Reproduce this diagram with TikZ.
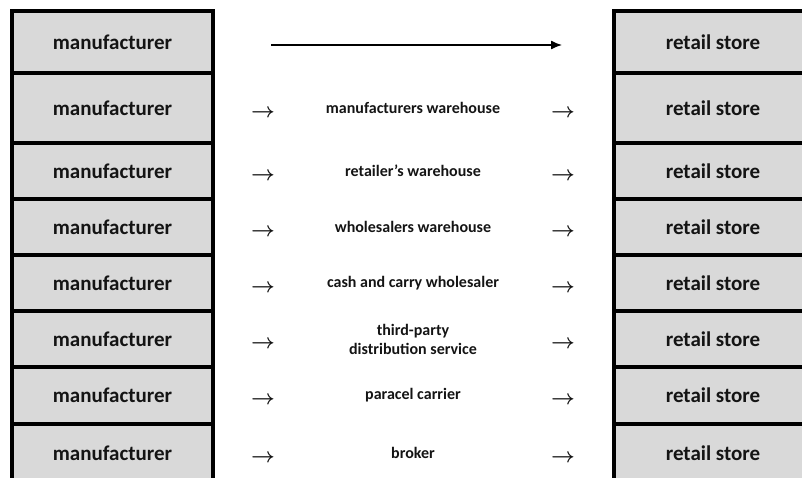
\documentclass[tikz,border=0pt]{standalone}
\usepackage{fontspec}
\setmainfont{Carlito}
\usetikzlibrary{arrows.meta}

\definecolor{boxfill}{HTML}{D9D9D9}
\definecolor{ink}{HTML}{141414}

\tikzset{
  endbox/.style={draw=black, line width=4pt, fill=boxfill, text=ink,
    font=\fontsize{21}{25}\selectfont\bfseries, inner sep=0pt, outer sep=0pt},
  midlabel/.style={text=ink, font=\fontsize{16}{19}\selectfont\bfseries,
    align=center, inner sep=0pt},
  smallarrow/.style={text=ink, font=\fontsize{20}{24}\selectfont\boldmath, inner sep=0pt},
  flow/.style={line width=1.3pt, -{Latex[length=11pt,width=9pt]}}
}

\begin{document}
\begin{tikzpicture}[x=1pt, y=-1pt]
  \useasboundingbox (0,0) rectangle (802,477);
  \clip (0,0) rectangle (802,477);

  % rows: top / bottom edges of each band
  \foreach \i/\top/\bot in {1/11/73, 2/73/143, 3/143/199, 4/199/255,
                            5/255/311, 6/311/367, 7/367/424, 8/424/482}{
    \pgfmathsetmacro{\h}{\bot-\top}
    \pgfmathsetmacro{\yc}{(\top+\bot)/2}
    \node[endbox, minimum width=201pt, minimum height=\h pt]
      (m\i) at (112.5,\yc) {manufacturer};
    \node[endbox, minimum width=198pt, minimum height=\h pt]
      (r\i) at (713,\yc) {retail store};
  }

  % direct route: one long arrow
  \draw[flow] ([xshift=58pt, yshift=-3pt]m1.east) -- ([xshift=-52pt, yshift=-3pt]r1.west);

  % intermediated routes
  \foreach \i/\lbl in {2/manufacturers warehouse, 3/retailer's warehouse,
                       4/wholesalers warehouse, 5/cash and carry wholesaler,
                       6/{third-party\\distribution service},
                       7/paracel carrier, 8/broker}{
    \node[midlabel] (c\i) at (413, 0 |- m\i.center) {\lbl};
    \node[smallarrow] (la\i) at ([yshift=-5pt]263, 0 |- m\i.center) {$\rightarrow$};
    \node[smallarrow] (ra\i) at ([yshift=-5pt]563, 0 |- m\i.center) {$\rightarrow$};
  }
\end{tikzpicture}
\end{document}
